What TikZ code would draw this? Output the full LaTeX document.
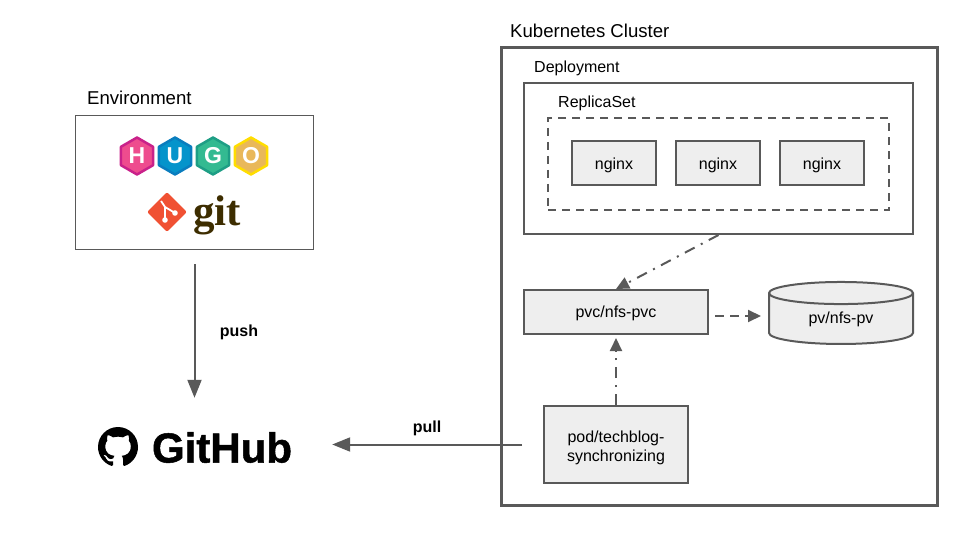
\documentclass[tikz,border=0pt]{standalone}
\usepackage{fontspec}
\setmainfont{Liberation Sans}
\newfontfamily\gitfont{Liberation Serif}
\newfontfamily\hubfont[FakeBold=1.2]{Liberation Sans Bold}
\usetikzlibrary{arrows.meta}
\usetikzlibrary{shapes.geometric}
\usetikzlibrary{svg.path}
\definecolor{linegray}{HTML}{595959}
\definecolor{boxgray}{HTML}{EEEEEE}
\definecolor{hugopink}{HTML}{EE4C8E}
\definecolor{hugopinkline}{HTML}{C9218A}
\definecolor{hugoblue}{HTML}{0594CB}
\definecolor{hugoblueline}{HTML}{0A7DBE}
\definecolor{hugogreen}{HTML}{33BA91}
\definecolor{hugogreenline}{HTML}{1E9E85}
\definecolor{hugoyellow}{HTML}{E9B85A}
\definecolor{hugoyellowline}{HTML}{FFDD00}
\definecolor{gitred}{HTML}{F05133}
\definecolor{gitbrown}{HTML}{3D2D00}
\tikzset{
    box/.style={draw=linegray, line width=2pt, minimum width=#1, inner sep=0pt, font=\fontsize{16}{19}\selectfont, align=center},
    graybox/.style={box=#1, fill=boxgray},
    nginxbox/.style={graybox=84pt, minimum height=44pt, text height=16.5pt, text depth=3.5pt},
    title/.style={anchor=west, inner sep=0pt, font=\fontsize{16}{19}\selectfont},
    bigtitle/.style={anchor=west, inner sep=0pt, font=\fontsize{18.6}{22}\selectfont},
    flowlabel/.style={inner sep=0pt, font=\fontsize{16}{19}\selectfont\bfseries},
    flow/.style={draw=linegray, line width=2pt, -{Triangle[length=18pt,width=14pt]}},
    flowdash/.style={draw=linegray, line width=2pt, -{Triangle[length=13pt,width=12pt]}, dash pattern=on 9pt off 6pt},
    flowdot/.style={flowdash, dash pattern=on 11pt off 7pt on 2pt off 7pt},
    hex/.style={regular polygon, regular polygon sides=6, shape border rotate=30, minimum size=37pt, inner sep=0pt, line width=2.5pt, line join=round, text=white, font=\fontsize{23}{23}\selectfont\bfseries}
}
\begin{document}
\begin{tikzpicture}[x=1pt, y=-1pt]
    \useasboundingbox (0,0) rectangle (960,540);

    \node[bigtitle] (envtitle) at (87,98) {Environment};
    \node[draw=linegray, line width=1pt, minimum width=238pt, minimum height=134pt] (env) at (194.5,182.5) {};
    \node[hex, draw=hugopinkline, fill=hugopink] (hugoh) at (137,156) {H};
    \node[hex, draw=hugoblueline, fill=hugoblue] (hugou) at (175,156) {U};
    \node[hex, draw=hugogreenline, fill=hugogreen] (hugog) at (213,156) {G};
    \node[hex, draw=hugoyellowline, fill=hugoyellow] (hugoo) at (251,156) {O};
    \node[diamond, fill=gitred, rounded corners=2pt, minimum width=40pt, minimum height=40pt, inner sep=0pt] (gitmark) at (167,212) {};
    \draw[white, line width=1.8pt] (161,201) -- (165,207) -- (165,220) (165,207) -- (175,213);
    \fill[white] (165,220) circle (2.8pt) (175,213) circle (2.8pt);
    \node[anchor=west, inner sep=0pt, text=gitbrown, font=\gitfont\fontsize{43}{43}\selectfont\bfseries] (gittext) at (193,215) {git};

    \node[minimum width=195pt, minimum height=46pt, inner sep=0pt] (github) at (194.5,444.5) {};
    \node[anchor=east, inner sep=0pt, font=\hubfont\fontsize{42}{42}\selectfont] (githubtext) at ([yshift=-3pt]github.east) {GitHub};
    \begin{scope}[shift={(98,427)}, scale=2.5, yscale=-1, y=1pt, x=1pt]
        \fill[black] svg {M 8 0 C 3.58 0 0 3.58 0 8 c 0 3.54 2.29 6.53 5.47 7.59 c 0.4 0.07 0.55 -0.17 0.55 -0.38 c 0 -0.19 -0.01 -0.82 -0.01 -1.49 c -2.01 0.37 -2.53 -0.49 -2.69 -0.94 c -0.09 -0.23 -0.48 -0.94 -0.82 -1.13 c -0.28 -0.15 -0.68 -0.52 -0.01 -0.53 c 0.63 -0.01 1.08 0.58 1.23 0.82 c 0.72 1.21 1.87 0.87 2.33 0.66 c 0.07 -0.52 0.28 -0.87 0.51 -1.07 c -1.78 -0.2 -3.64 -0.89 -3.64 -3.95 c 0 -0.87 0.31 -1.59 0.82 -2.15 c -0.08 -0.2 -0.36 -1.02 0.08 -2.12 c 0 0 0.67 -0.21 2.2 0.82 c 0.64 -0.18 1.32 -0.27 2 -0.27 c 0.68 0 1.36 0.09 2 0.27 c 1.53 -1.04 2.2 -0.82 2.2 -0.82 c 0.44 1.1 0.16 1.92 0.08 2.12 c 0.51 0.56 0.82 1.27 0.82 2.15 c 0 3.07 -1.87 3.75 -3.65 3.95 c 0.29 0.25 0.54 0.73 0.54 1.48 c 0 1.07 -0.01 1.93 -0.01 2.2 c 0 0.21 0.15 0.46 0.55 0.38 C 13.71 14.53 16 11.53 16 8 c 0 -4.42 -3.58 -8 -8 -8 z};
    \end{scope}

    \node[bigtitle] (clustertitle) at (510,31) {Kubernetes Cluster};
    \node[draw=linegray, line width=3pt, minimum width=436pt, minimum height=457pt] (cluster) at (719,276.5) {};
    \node[title] (deploytitle) at (534,68.5) {Deployment};
    \node[box=389pt, minimum height=151pt] (deploy) at (718.5,158.5) {};
    \node[title] (replicatitle) at (558,103) {ReplicaSet};
    \node[box=341pt, minimum height=92pt, dash pattern=on 8pt off 6pt] (replica) at (718.5,164) {};
    \node[nginxbox] (nginxa) at (614,163) {nginx};
    \node[nginxbox] (nginxb) at (718,163) {nginx};
    \node[nginxbox] (nginxc) at (822,163) {nginx};
    \node[graybox=184pt, minimum height=44pt, text height=15pt, text depth=3.5pt] (pvc) at (616,312) {pvc/nfs-pvc};
    \node[cylinder, shape border rotate=90, aspect=0.34, draw=linegray, fill=boxgray, line width=2pt, minimum width=144pt, minimum height=62pt, inner sep=0pt, font=\fontsize{16}{19}\selectfont] (pv) at (841,319) {pv/nfs-pv};
    \node[graybox=144pt, minimum height=77pt, text height=37pt] (pod) at (616,444.5) {pod/techblog-\\synchronizing};

    \node[flowlabel] (pushlabel) at (239,332.5) {push};
    \node[flowlabel] (pulllabel) at (427,428) {pull};

    \path (env.south) edge[flow, shorten <=14pt, shorten >=23.5pt] (github.north);
    \path (pod.west) edge[flow, shorten <=21pt, shorten >=40pt] (github.east);
    \path (deploy.south) edge[flowdot] (pvc.north);
    \path (pod.north) edge[flowdot, shorten >=3pt] (pvc.south);
    \path ([yshift=-4pt]pvc.east) edge[flowdash, shorten <=6pt, shorten >=7pt] ([yshift=3pt]pv.west);
\end{tikzpicture}
\end{document}
